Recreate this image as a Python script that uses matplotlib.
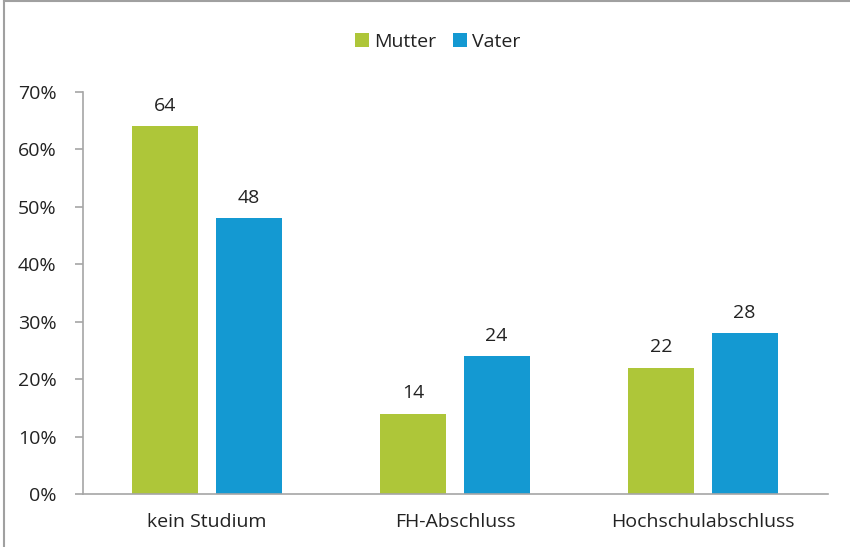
import matplotlib.pyplot as plt
import numpy as np
from matplotlib.lines import Line2D

plt.rcParams["font.family"] = ["Open Sans", "DejaVu Sans"]

categories = ["kein Studium", "FH-Abschluss", "Hochschulabschluss"]
mutter = [64, 14, 22]
vater = [48, 24, 28]

GREEN = "#AEC639"
BLUE = "#1499D2"
AXIS = "#A6A6A6"
TEXT = "#222222"

fig = plt.figure(figsize=(8.5, 5.47), dpi=100)
ax = fig.add_axes([83 / 850, 1 - 494 / 547, 745 / 850, 402 / 547])

x = np.arange(len(categories))
w = 0.266
off = (w + 0.069) / 2
b1 = ax.bar(x - off, mutter, w, color=GREEN, label="Mutter")
b2 = ax.bar(x + off, vater, w, color=BLUE, label="Vater")

for bars, vals in [(b1, mutter), (b2, vater)]:
    for b, v in zip(bars, vals):
        ax.text(b.get_x() + b.get_width() / 2, v + 2, f"{v}",
                ha="center", va="bottom", fontsize=14, color=TEXT)

ax.set_xlim(-0.5, 2.504)
ax.set_ylim(0, 70)
ax.set_yticks(range(0, 71, 10))
ax.set_yticklabels([f"{t}%" for t in range(0, 71, 10)], fontsize=14, color=TEXT)
ax.set_xticks(x)
ax.set_xticklabels(categories, fontsize=14, color=TEXT)
ax.tick_params(axis="x", length=0, pad=14)
ax.tick_params(axis="y", length=6, color=AXIS, width=1.2, pad=13)

for s in ["top", "right"]:
    ax.spines[s].set_visible(False)
for s in ["left", "bottom"]:
    ax.spines[s].set_color(AXIS)
    ax.spines[s].set_linewidth(1.2)

fig.legend(handles=[b1, b2], labels=["Mutter", "Vater"], loc="center",
           bbox_to_anchor=(0.515, 1 - 42 / 547), ncol=2, frameon=False,
           fontsize=14, handlelength=0.7, handleheight=0.7,
           handletextpad=0.25, columnspacing=0.9, labelcolor=TEXT)

# outer frame (left and top edges visible)
fig.add_artist(Line2D([4 / 850, 4 / 850], [0, 1 - 1 / 547], transform=fig.transFigure,
                      color="#A0A0A0", lw=1.5))
fig.add_artist(Line2D([4 / 850, 1], [1 - 1 / 547, 1 - 1 / 547], transform=fig.transFigure,
                      color="#A0A0A0", lw=1.5))

fig.savefig("out.png", dpi=100, facecolor="white")
